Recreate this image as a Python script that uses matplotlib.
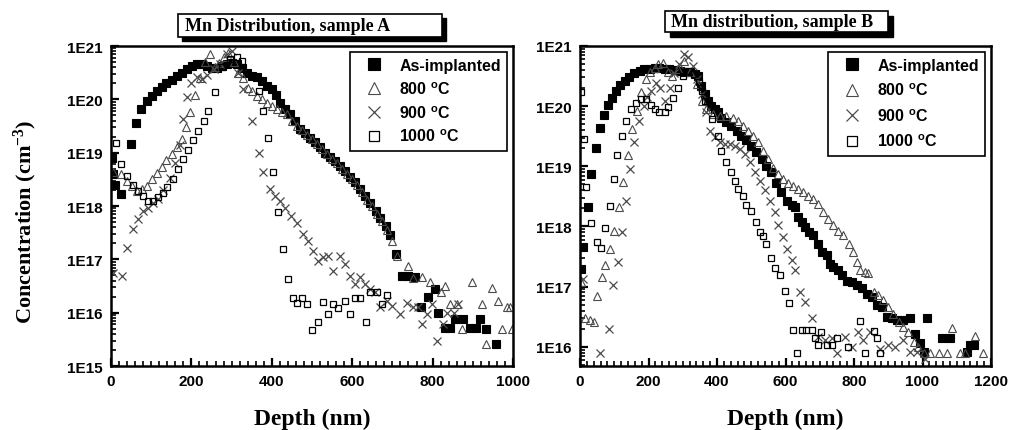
import numpy as np
import matplotlib
matplotlib.use("Agg")
import matplotlib.pyplot as plt
from matplotlib.ticker import FixedLocator, MultipleLocator, LogLocator, NullFormatter
from matplotlib.patches import Rectangle

# values: (depth nm, log10 of concentration in cm^-3)
asimp_A = [(3, 18.9), (6, 18.6), (10, 18.4), (25, 18.22), (50, 19.16), (63, 19.55), (75, 19.81),
           (89, 19.97), (101, 20.06), (114, 20.16), (126, 20.23), (138, 20.31), (151, 20.36),
           (163, 20.43), (176, 20.49), (188, 20.56), (201, 20.63), (213, 20.66), (226, 20.66),
           (238, 20.63), (250, 20.59), (263, 20.59), (275, 20.63), (288, 20.66), (300, 20.69),
           (313, 20.66), (325, 20.59), (338, 20.5), (350, 20.44), (363, 20.41), (375, 20.34),
           (387, 20.25), (400, 20.19), (410, 20.09), (420, 19.94), (433, 19.81), (445, 19.72),
           (458, 19.6), (470, 19.44), (483, 19.36), (495, 19.28), (508, 19.2), (520, 19.1),
           (533, 19.0), (545, 18.92), (558, 18.84), (570, 18.75), (583, 18.66), (595, 18.55),
           (608, 18.45), (620, 18.32), (633, 18.18), (645, 18.05), (658, 17.9), (670, 17.78),
           (683, 17.62), (695, 17.45), (708, 17.1), (723, 16.69), (740, 16.69), (756, 16.66),
           (772, 16.1), (789, 16.3), (806, 16.45), (814, 16.0), (831, 15.72), (843, 15.72),
           (856, 15.89), (876, 15.89), (893, 15.72), (909, 15.72), (918, 15.89), (933, 15.7),
           (958, 15.41)]
c800_A = [(6, 18.63), (24, 18.6), (39, 18.47), (51, 18.37), (64, 18.28), (76, 18.31), (89, 18.38),
          (101, 18.5), (114, 18.62), (126, 18.74), (138, 18.86), (151, 18.98), (163, 19.1),
          (176, 19.26), (187, 19.48), (197, 19.76), (210, 20.08), (222, 20.4), (234, 20.7),
          (246, 20.85), (258, 20.6), (268, 20.69), (280, 20.8), (290, 20.87), (305, 20.7),
          (317, 20.5), (329, 20.4), (341, 20.22), (350, 20.16), (363, 20.06), (375, 20.0),
          (387, 19.94), (400, 19.87), (412, 19.81), (425, 19.76), (437, 19.72), (450, 19.6),
          (462, 19.5), (475, 19.42), (487, 19.33), (500, 19.25), (512, 19.16), (525, 19.06),
          (537, 18.98), (550, 18.88), (562, 18.8), (575, 18.7), (587, 18.6), (600, 18.5),
          (612, 18.4), (625, 18.26), (637, 18.12), (650, 18.0), (662, 17.85), (675, 17.72),
          (687, 17.55), (700, 17.35), (712, 17.06), (740, 16.88), (752, 16.65), (773, 16.66),
          (793, 16.57), (822, 16.38), (831, 16.5), (843, 16.16), (860, 16.16), (872, 15.69),
          (897, 16.57), (922, 16.16), (934, 15.41), (947, 16.47), (963, 16.22), (972, 15.69),
          (984, 16.1), (992, 16.1), (998, 15.69)]
c900_A = [(6, 16.75), (27, 16.69), (39, 17.22), (54, 17.56), (66, 17.75), (79, 17.91), (93, 17.97),
          (105, 18.06), (118, 18.13), (130, 18.3), (147, 18.53), (160, 18.8), (172, 19.15),
          (180, 19.63), (190, 20.04), (200, 20.31), (213, 20.41), (226, 20.38), (240, 20.45),
          (255, 20.56), (271, 20.66), (288, 20.85), (300, 20.91), (315, 20.5), (329, 20.19),
          (350, 19.6), (367, 19.0), (379, 18.63), (396, 18.32), (408, 18.19), (420, 18.1),
          (433, 17.97), (449, 17.82), (462, 17.69), (478, 17.47), (491, 17.35), (503, 17.16),
          (516, 16.97), (528, 17.04), (541, 17.07), (553, 16.78), (570, 17.07), (582, 16.91),
          (595, 16.69), (607, 16.53), (619, 16.66), (632, 16.53), (645, 16.45), (657, 16.38),
          (669, 16.1), (686, 16.22), (698, 16.13), (719, 15.97), (736, 16.19), (752, 16.1),
          (764, 16.1), (773, 15.78), (785, 15.97), (798, 16.16), (810, 15.47), (826, 15.78),
          (835, 16.0), (852, 16.0), (864, 16.16)]
c1000_A = [(12, 19.19), (24, 18.78), (39, 18.56), (54, 18.39), (66, 18.28), (79, 18.19), (93, 18.09),
           (105, 18.09), (118, 18.16), (130, 18.25), (140, 18.36), (153, 18.5), (167, 18.7),
           (180, 18.88), (192, 19.05), (205, 19.24), (217, 19.4), (231, 19.6), (242, 19.79),
           (259, 20.13), (275, 20.6), (296, 20.76), (313, 20.8), (325, 20.72), (367, 20.16),
           (379, 19.79), (391, 19.27), (404, 18.63), (415, 17.89), (428, 17.19), (440, 16.63),
           (452, 16.28), (462, 16.19), (474, 16.28), (487, 16.16), (501, 15.67), (516, 15.83),
           (527, 16.2), (541, 15.97), (553, 16.16), (565, 16.09), (582, 16.22), (594, 15.97),
           (607, 16.28), (619, 16.28), (634, 15.83), (644, 16.38), (661, 16.38), (673, 16.16),
           (686, 16.33)]

asimp_B = [(4, 17.3), (9, 17.66), (22, 18.32), (32, 18.87), (47, 19.31), (59, 19.63), (71, 19.85),
           (81, 20.02), (94, 20.14), (105, 20.25), (117, 20.35), (130, 20.42), (144, 20.49),
           (159, 20.55), (174, 20.59), (188, 20.61), (203, 20.62), (218, 20.64), (232, 20.64),
           (247, 20.62), (261, 20.61), (276, 20.6), (291, 20.59), (305, 20.57), (320, 20.56),
           (335, 20.53), (344, 20.5), (354, 20.34), (364, 20.2), (374, 20.09), (383, 20.01),
           (393, 19.95), (403, 19.9), (413, 19.81), (427, 19.74), (442, 19.67), (457, 19.59),
           (471, 19.51), (486, 19.43), (500, 19.34), (515, 19.23), (530, 19.12), (544, 19.01),
           (559, 18.9), (573, 18.73), (588, 18.57), (603, 18.43), (618, 18.35), (627, 18.32),
           (637, 18.15), (647, 18.07), (657, 17.99), (669, 17.91), (681, 17.85), (696, 17.71),
           (706, 17.57), (720, 17.52), (730, 17.38), (740, 17.33), (754, 17.27), (764, 17.19),
           (779, 17.1), (793, 17.08), (808, 17.03), (822, 16.97), (837, 16.88), (852, 16.83),
           (866, 16.69), (881, 16.66), (896, 16.5), (910, 16.47), (925, 16.44), (944, 16.44),
           (964, 16.48), (979, 16.22), (993, 16.06), (1003, 15.92), (1013, 16.48), (1057, 16.14),
           (1081, 16.14), (1130, 15.92), (1140, 16.03), (1149, 16.03)]
c800_B = [(4, 17.08), (16, 16.47), (30, 16.44), (42, 16.41), (50, 16.85), (63, 17.16), (74, 17.36),
          (87, 17.63), (100, 17.93), (114, 18.32), (127, 18.74), (139, 19.18), (151, 19.62),
          (166, 19.92), (179, 20.23), (192, 20.45), (205, 20.56), (218, 20.64), (229, 20.7),
          (242, 20.72), (257, 20.56), (269, 20.5), (285, 20.62), (303, 20.75), (322, 20.56),
          (342, 20.37), (357, 20.09), (369, 19.95), (388, 19.87), (408, 19.84), (427, 19.83),
          (447, 19.81), (461, 19.76), (476, 19.67), (491, 19.59), (505, 19.51), (520, 19.4),
          (535, 19.26), (549, 19.12), (564, 18.98), (579, 18.87), (593, 18.79), (608, 18.73),
          (622, 18.68), (637, 18.62), (652, 18.57), (666, 18.51), (681, 18.46), (696, 18.38),
          (710, 18.24), (725, 18.13), (740, 18.02), (754, 17.93), (769, 17.85), (784, 17.71),
          (798, 17.57), (808, 17.41), (817, 17.27), (832, 17.24), (842, 17.22), (857, 16.91),
          (871, 16.86), (886, 16.77), (900, 16.66), (915, 16.55), (930, 16.41), (944, 16.33),
          (959, 16.25), (974, 16.08), (988, 16.0), (1003, 15.89), (1022, 15.89), (1047, 15.89),
          (1071, 15.89), (1086, 16.31), (1110, 15.89), (1125, 15.89), (1154, 16.18), (1178, 15.89)]
c900_B = [(9, 17.13), (58, 15.89), (84, 16.3), (97, 17.02), (110, 17.41), (122, 17.91), (133, 18.43),
          (146, 18.96), (159, 19.4), (173, 19.76), (186, 20.0), (197, 20.15), (208, 20.25),
          (222, 20.39), (234, 20.3), (249, 20.09), (262, 20.3), (275, 20.55), (288, 20.7),
          (303, 20.86), (316, 20.81), (329, 20.67), (342, 20.45), (355, 20.2), (367, 19.9),
          (379, 19.59), (393, 19.48), (408, 19.4), (422, 19.37), (437, 19.37), (452, 19.34),
          (466, 19.29), (481, 19.2), (496, 19.07), (510, 18.9), (525, 18.76), (540, 18.6),
          (554, 18.43), (569, 18.24), (579, 18.02), (593, 17.82), (603, 17.63), (618, 17.44),
          (627, 17.27), (642, 16.91), (657, 16.75), (676, 16.47), (696, 16.17), (715, 16.11),
          (735, 16.14), (749, 15.89), (774, 16.17), (793, 16.0), (813, 16.25), (827, 16.11),
          (847, 16.25), (876, 15.97), (900, 16.03), (920, 16.0), (944, 16.11), (964, 15.92),
          (983, 15.92), (1008, 15.8)]
c1000_B = [(3, 20.23), (12, 19.46), (18, 18.66), (33, 18.06), (49, 17.74), (61, 17.64), (74, 17.97),
           (88, 18.34), (98, 18.79), (107, 19.19), (123, 19.51), (135, 19.76), (149, 19.95),
           (164, 20.06), (179, 20.12), (193, 20.12), (208, 20.02), (220, 19.95), (232, 19.9),
           (247, 19.9), (257, 19.98), (271, 20.14), (286, 20.31), (300, 20.5), (315, 20.59),
           (332, 20.53), (347, 20.4), (357, 20.26), (366, 20.09), (386, 19.79), (403, 19.51),
           (413, 19.26), (427, 19.07), (442, 18.9), (452, 18.76), (462, 18.62), (476, 18.51),
           (486, 18.35), (500, 18.25), (513, 18.08), (525, 17.91), (535, 17.84), (544, 17.71),
           (559, 17.48), (569, 17.31), (583, 17.19), (598, 16.92), (611, 16.72), (622, 16.28),
           (635, 15.89), (647, 16.28), (661, 16.28), (676, 16.28), (686, 16.14), (696, 16.03),
           (705, 16.25), (720, 16.03), (735, 16.03), (749, 16.14), (783, 16.0), (818, 16.43),
           (832, 15.89), (857, 16.26), (866, 16.14), (876, 15.89)]

series_labels = ['As-implanted', '800 $\\mathregular{^o}$C', '900 $\\mathregular{^o}$C', '1000 $\\mathregular{^o}$C']
titles = ['Mn Distribution, sample A', 'Mn distribution, sample B']
xticks_A = [0, 200, 400, 600, 800, 1000]
xticks_B = [0, 200, 400, 600, 800, 1000, 1200]
yticks_A = [1e15, 1e16, 1e17, 1e18, 1e19, 1e20, 1e21]
yticks_B = [1e16, 1e17, 1e18, 1e19, 1e20, 1e21]

sans = ['Liberation Sans', 'DejaVu Sans']
serif = ['Liberation Serif', 'DejaVu Serif']

styles = [
    dict(marker='s', ms=5.2, mfc='black', mec='black', mew=0.8),
    dict(marker='^', ms=5.6, mfc='none', mec='#4a4a4a', mew=0.8),
    dict(marker='x', ms=5.2, mfc='none', mec='#4a4a4a', mew=0.9),
    dict(marker='s', ms=4.8, mfc='none', mec='black', mew=0.9),
]

fig = plt.figure(figsize=(10.1, 4.31), dpi=100)
W, H = 1010, 431
axA = fig.add_axes([111 / W, 1 - 367 / H, 402 / W, 320 / H])
axB = fig.add_axes([580 / W, 1 - 367 / H, 411 / W, 320 / H])


def draw(ax, data, xticks, yticks, xmax, ymin, lspace):
    for pts, st, lab in zip(data, styles, series_labels):
        x = [p[0] for p in pts]
        y = [10 ** p[1] for p in pts]
        ax.plot(x, y, linestyle='none', label=lab, **st)
    ax.set_yscale('log')
    ax.set_xlim(0, xmax)
    ax.set_ylim(ymin, 1e21)
    ax.xaxis.set_major_locator(FixedLocator(xticks))
    ax.xaxis.set_minor_locator(MultipleLocator(20))
    ax.set_xticklabels([str(t) for t in xticks])
    ax.yaxis.set_major_locator(FixedLocator(yticks))
    ax.set_yticklabels(['1E%d' % round(np.log10(t)) for t in yticks])
    ax.yaxis.set_minor_locator(LogLocator(base=10, subs=np.arange(2, 10)))
    ax.yaxis.set_minor_formatter(NullFormatter())
    ax.tick_params(which='both', direction='in', top=False, right=False)
    ax.tick_params(which='major', length=6, width=1.6, pad=6)
    ax.tick_params(which='minor', length=3.5, width=1.2)
    for lbl in ax.get_xticklabels() + ax.get_yticklabels():
        lbl.set_fontfamily(sans)
        lbl.set_fontweight('bold')
        lbl.set_fontsize(11)
    for sp in ax.spines.values():
        sp.set_linewidth(1.8)
    leg = ax.legend(loc='upper right', frameon=True, fancybox=False, borderaxespad=0.35,
                    prop=dict(family=sans, weight='bold', size=11.5), markerscale=1.6,
                    handlelength=2.2, handletextpad=0.5, labelspacing=lspace, borderpad=0.4)
    leg.get_frame().set_edgecolor('black')
    leg.get_frame().set_linewidth(1.2)
    leg.get_frame().set_alpha(1)
    ax.set_xlabel('Depth (nm)', fontfamily=serif, fontweight='bold', fontsize=17, labelpad=14)


draw(axA, [asimp_A, c800_A, c900_A, c1000_A], xticks_A, yticks_A, 1000, 1e15, 0.45)
draw(axB, [asimp_B, c800_B, c900_B, c1000_B], xticks_B, yticks_B, 1200, 10 ** 15.68, 0.55)

fig.text(25 / W, 1 - 222 / H, 'Concentration (cm$\\mathregular{^{-3}}$)', rotation=90,
         ha='center', va='center', fontfamily=serif, fontweight='bold', fontsize=16)

# title boxes with drop shadow
for (x0, y0, x1, y1, tx, off), title in zip([(178, 15, 442, 38, 185, 4), (665, 12, 888, 33, 671, 5)], titles):
    fig.patches.append(Rectangle(((x0 + off) / W, 1 - (y1 + off) / H), (x1 - x0) / W, (y1 - y0) / H,
                                 transform=fig.transFigure, facecolor='black', edgecolor='black', zorder=5))
    fig.patches.append(Rectangle((x0 / W, 1 - y1 / H), (x1 - x0) / W, (y1 - y0) / H,
                                 transform=fig.transFigure, facecolor='white', edgecolor='black',
                                 linewidth=1.2, zorder=6))
    fig.text(tx / W, 1 - (y0 + y1) / 2 / H, title, ha='left', va='center', fontfamily=serif,
             fontweight='bold', fontsize=13, zorder=7)

fig.savefig('out.png', dpi=100)
